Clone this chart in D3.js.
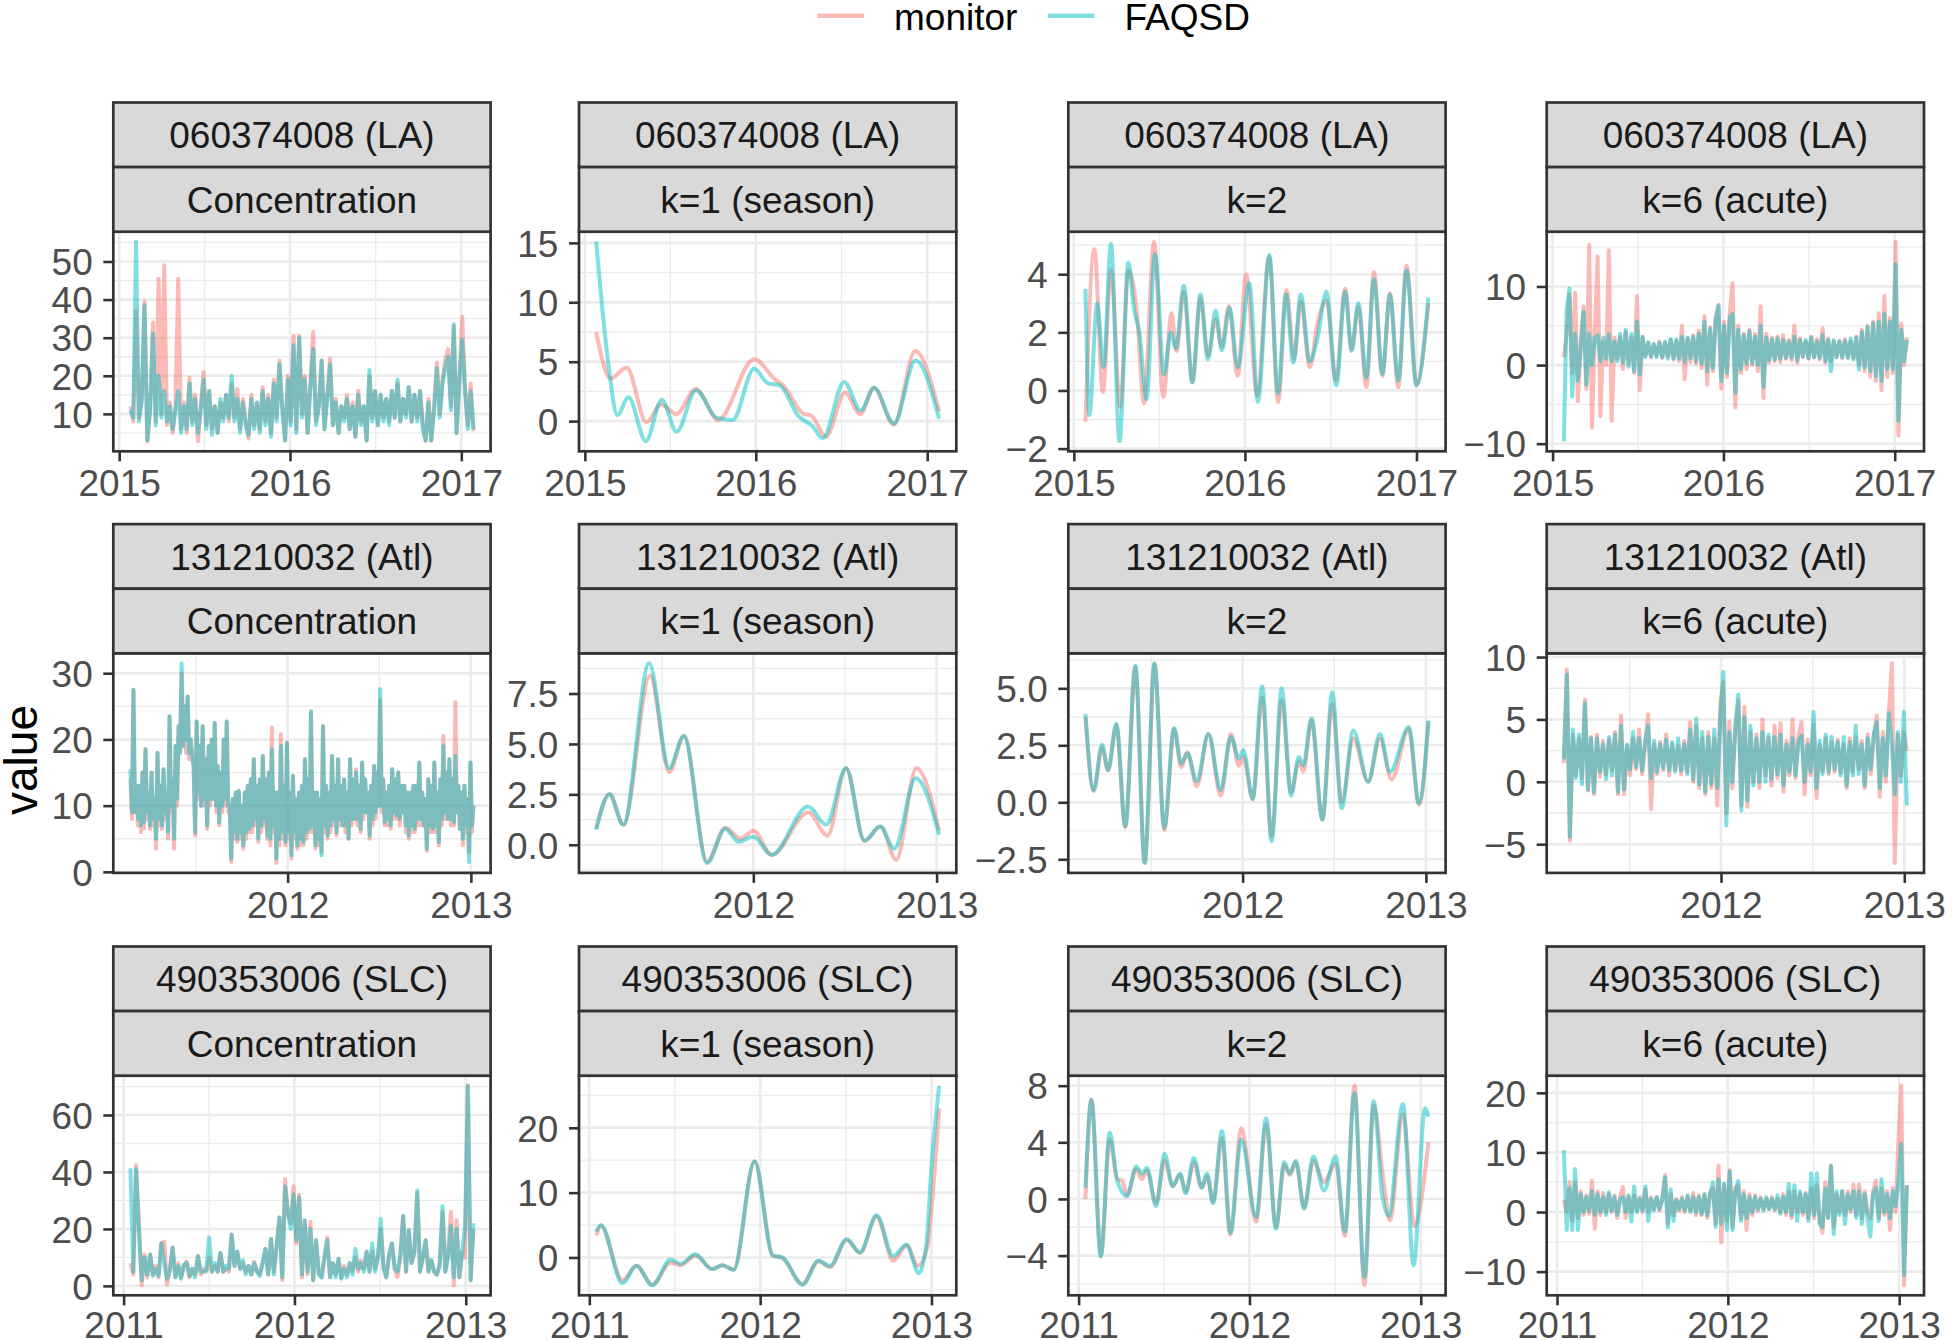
<!DOCTYPE html>
<html><head><meta charset="utf-8">
<script src="https://cdn.jsdelivr.net/npm/d3@7"></script>
<style>
body{margin:0;background:#fff;}
svg{display:block;font-family:"Liberation Sans",Arial,Helvetica,sans-serif;}
</style></head><body>
<svg id="chart" width="1952" height="1340"></svg>
<script>
// ---------------- DATA ----------------
const sites = ["060374008 (LA)", "131210032 (Atl)", "490353006 (SLC)"];
const components = ["Concentration", "k=1 (season)", "k=2", "k=6 (acute)"];
const seriesNames = ["monitor", "FAQSD"];
const seriesColors = ["#F8766D", "#00BFC4"];
// first and last day of each site's record (decimal year); sampled daily values are evenly spread between them
const siteStart = [2015.066, 2011.14, 2011.04];
const siteEnd = [2017.071, 2013.014, 2013.045];

// LA — concentration and acute (k=6) sampled values
const laConcMonitor = [12,8,37,9,14,39.5,2.8,12,34,8, 45.5,10,49,7,13,5,12,45.5,6,13, 5,19.5,8,15,2.8,12,21,7,16,6, 12,5,13,9,15,8,18,9,16.5,6, 14,8,3.5,15,7,13,6,17,8,15, 5,19,9,24,12,3,20,8,30.5,6, 30.5,10,20,5,18,31.5,8,12,24,6, 15,24.5,7,14,5,12,9,15,6,13, 4,16,8,12,3,20,9,16,7,15, 9,14,8,16,9,18,8,14,10,17, 8,15,9,16,7,3,14,3,12,23.5, 10,19,24.5,27,12,33,5,20,35.5,17, 7,18,5.5];
const laConcFAQSD = [11,9,55.2,8,13,38.5,3,11,31,7, 20,9,16,8,12,6,11,16,5,12, 6,18,7,14,5,11,19,6,16,4.5, 12,5,14,8,15,9,20,8,14,5, 13,7,4.5,14,6,13,5,16,7,14, 4,18,8,23,11,3,19,7,28,5, 30,9,19,5,17,27,7,12,24,6, 14,23,7,13,5,12,8,14,6,12, 4,15,7,12,3,21.5,8,16,7,15, 8,14,7,16,9,19,8,14,9,17, 8,15,8,16,6,3,13,3,11,22, 9,18,22,25,11,33.5,5,19,29.5,16, 6,16,6];
const laAcuteMonitor = [1,4,9,-1,9.2,-4.6,3,7.5,-3,15.3, -7.95,4,13.8,-6.5,3,0,14.6,-7.1,3.5,0.8, 3.5,-0.5,4.2,0.2,3.5,-1,8.8,-3.2,3.5,1.2, 2.8,1.0,2.6,1.2,3.0,0.9,2.8,1.1,3.2,0.7, 3.0,0.5,5.0,-1.8,3.4,0.4,3.8,0.2,4.4,-0.4, 6.2,-2.5,4.8,-0.8,6,7.7,-3.0,5.5,-1.5,6.5, 10.4,-5.4,5.0,-1.0,4.0,-0.5,4.5,0.0,4.0,-0.8, 7.5,-4.2,4.0,0.3,3.5,0.5,3.6,0.4,3.8,0.8, 3.2,0.6,5.0,0.3,3.4,1.0,3.0,0.8,3.6,1.0, 3.3,0.7,4.7,0.3,3.4,0.5,3.0,1.0,3.1,0.9, 3.3,1.0,3.0,0.9,3.6,0.0,4.5,-0.8,5.0,-1.5, 5.5,-2.0,6.6,-3.2,8.8,-1.5,6.0,-1.0,15.7,-9.0, 5.3,0.0,3.5];
const laAcuteFAQSD = [-9.7,7.1,9.75,-4,4,-2,2,6.8,-2.5,4, 0,3.5,3.8,0.5,3.5,0.8,3.9,0.5,3,0.5, 4.0,0.3,4.5,-0.2,4.0,-0.8,5.5,-1.2,3.6,1.0, 2.9,1.1,2.7,1.0,2.8,1.0,3.0,0.8,3.3,0.8, 3.3,0.8,3.6,0.4,3.5,0.9,3.6,0.5,4.0,0.2, 5.5,-0.8,4.6,-0.4,5.8,7.5,-2.0,5.0,-1.0,6.0, 6.5,-3.5,4.5,-0.5,3.8,0.2,4.3,0.3,3.6,0.0, 5.0,-2.8,3.5,0.6,3.3,0.7,3.4,0.8,3.2,0.9, 3.0,1.0,3.6,0.6,3.2,1.1,3.2,0.9,3.5,1.0, 3.0,0.9,3.8,0.5,3.2,-0.8,3.2,1.0,3.0,1.0, 3.1,0.9,3.4,0.7,3.5,-0.6,4.2,-0.3,4.8,-0.8, 5.3,-1.4,5.5,-2.0,6.5,-0.5,5.5,-0.5,12.8,-7.1, 4.5,0.5,3.2];
// LA — smooth components: [decimal year, value] at turning points
const laSeasonMonitor = [[2015.066,7.5],[2015.15,3.6],[2015.245,4.5],[2015.36,-0.1],[2015.445,1.4],[2015.535,0.6],[2015.65,2.7],[2015.78,0.1],[2015.99,5.2],[2016.12,3.4],[2016.16,3.0],[2016.28,0.6],[2016.32,0.5],[2016.41,-1.3],[2016.52,2.4],[2016.61,0.6],[2016.69,2.8],[2016.805,-0.3],[2016.93,5.9],[2017.07,0.8]];
const laSeasonFAQSD = [[2015.066,15.1],[2015.14,4.5],[2015.19,0.5],[2015.255,2.0],[2015.357,-1.7],[2015.45,1.8],[2015.537,-0.9],[2015.65,2.6],[2015.77,0.3],[2015.865,0.1],[2015.99,4.4],[2016.07,3.2],[2016.14,3.0],[2016.25,0.4],[2016.33,-0.4],[2016.39,-1.45],[2016.516,3.3],[2016.612,0.9],[2016.69,2.8],[2016.806,-0.2],[2016.932,5.1],[2017.07,0.2]];
const laK2Monitor = [[2015.068,-1.08],[2015.12,4.87],[2015.17,-0.06],[2015.217,4.14],[2015.271,-0.57],[2015.319,4.14],[2015.368,2.7],[2015.41,-0.45],[2015.469,5.12],[2015.523,-0.23],[2015.571,2.66],[2015.6,1.36],[2015.643,3.4],[2015.693,0.28],[2015.74,3.17],[2015.784,1.19],[2015.829,2.44],[2015.865,1.5],[2015.906,2.9],[2015.958,0.5],[2016.007,4.0],[2016.071,-0.17],[2016.142,4.6],[2016.193,-0.4],[2016.243,3.45],[2016.287,1.1],[2016.326,3.06],[2016.378,0.8],[2016.423,2.3],[2016.475,3.1],[2016.53,0.34],[2016.584,3.5],[2016.622,1.4],[2016.661,2.9],[2016.708,0.11],[2016.752,4.08],[2016.801,0.5],[2016.845,3.34],[2016.894,0.11],[2016.942,4.3],[2017.0,0.2],[2017.07,3.0]];
const laK2FAQSD = [[2015.068,3.5],[2015.091,-0.85],[2015.136,3.0],[2015.174,0.8],[2015.217,5.05],[2015.267,-1.75],[2015.319,4.4],[2015.352,2.8],[2015.383,2.0],[2015.426,-0.3],[2015.474,4.7],[2015.527,0.55],[2015.567,2.0],[2015.596,1.45],[2015.643,3.6],[2015.693,0.28],[2015.74,3.3],[2015.784,1.07],[2015.829,2.75],[2015.865,1.38],[2015.91,2.85],[2015.958,0.8],[2016.026,3.7],[2016.076,-0.4],[2016.142,4.67],[2016.193,-0.1],[2016.239,3.3],[2016.282,0.96],[2016.326,3.3],[2016.378,1.0],[2016.423,1.8],[2016.475,3.4],[2016.533,0.17],[2016.584,3.4],[2016.622,1.36],[2016.661,3.0],[2016.708,0.45],[2016.752,3.83],[2016.801,0.57],[2016.845,3.29],[2016.894,0.34],[2016.942,4.14],[2017.0,0.17],[2017.07,3.2]];

// Atl
const atlConcMonitor = [14,8, 27.5,9, 13,7, 13,6, 15,6.5, 18.5,8, 12,6.5, 15,7, 11,3.5, 18,7,
 13,6.5, 15.5,8, 12,5, 23.5,9, 14,3.5, 19,10, 22,18, 30,19, 25,18, 26.5,17,
 20,17.5, 16,5.5, 22.7,11, 19,10, 22,10, 17,6.5, 19,10, 20,11, 22.5,9, 16,7,
 15,9, 20,10, 22.7,9, 10,1.5, 11,5, 12,4.5, 12.2,5, 10,3.5, 12,5, 13,6,
 14,6, 17,7, 13,4.5, 14,6, 17.5,7, 14,5, 15,4, 21.8,6, 12,1.35, 12,4,
 20.8,5, 13,4, 19.5,5, 12,2, 14.5,5, 11,3.5, 12,4, 13,4, 17,5, 14,6,
 24,6, 12,3.5, 12,4, 11,3, 22,6, 13,5, 12,6, 17.5,7, 13,5.5, 17,7,
 13,7, 14,6, 12,5, 17,7, 14,8, 15.5,7, 13,6, 16.5,8, 14,9, 12,5,
 13,7, 16,8, 15,10, 26,9, 14,7, 12,7, 13,6.5, 15.5,8, 14,8, 15,7,
 13,9, 13,6, 12,5, 12,6, 13,6, 13,7, 16.5,7, 12,7, 11,3.2, 14,6,
 13,6, 16.5,6, 12,4, 14,7, 20.5,8, 15,8, 17,7, 14,7, 25.6,9, 13,6.5,
 12,4, 13,6, 11,3, 16.5,6, 10];
const atlConcFAQSD = [15.5,9, 27.5,9, 13,8, 13,7, 15,7.5, 18.5,9, 12,7, 15,8, 11,5, 18,8,
 13,7, 15.5,9, 12,6, 23.5,10, 14,5, 19,11, 22,18, 31.5,19, 25,20, 26.5,18,
 20,17.5, 16,6, 22.7,12, 19,10, 22,11, 17,7, 19,11, 20,11, 22.5,10, 16,7.5,
 15,10, 20,11, 22.7,10, 10,2, 11,6, 12,5, 12.2,6, 10,4, 12,6, 13,6.5,
 14,7, 17,8, 13,5, 14,7, 17.5,8, 14,5.5, 15,5, 18.5,7, 12,2, 12,5,
 19,6, 13,4.5, 19.5,6, 12,2.5, 14.5,6, 11,4, 12,5, 13,4.5, 17,6, 14,6.5,
 24.3,7, 12,4, 12,5, 11,2.5, 22,7, 13,5.5, 12,7, 17.5,8, 13,6, 17,8,
 13,7, 14,7, 12,5, 17,8, 14,8, 15,8, 13,6.5, 16.5,9, 14,9, 12,5.5,
 13,8, 16,9, 15,10, 27.6,10, 14,7.5, 12,8, 13,7, 15.5,9, 14,8.5, 15,8,
 13,9, 13,7, 12,5.5, 12,7, 13,6.5, 13,8, 16.5,8, 12,7, 11,3.5, 14,7,
 13,6.5, 16.5,7, 12,4.5, 14,8, 19,9, 15,8, 17,8, 14,7.5, 17.5,9, 13,6.5,
 12,5, 13,7, 11,1.5, 16.5,7, 10];
const atlAcuteMonitor = [1.5,9.0,-4.7,3.8,0.5,3.5,0.3,6.6,-0.7,3.6, -1.0,3.8,0.4,3.3,0.6,3.4,0.9,4.0,-1.0,5.3, -1.0,2.9,0.5,3.5,1.0,4.2,0.6,3.0,5.4,-2.2, 3.0,0.6,3.2,0.9,3.8,0.5,3.0,1.0,2.9,0.6, 3.3,0.8,4.8,0.0,4.5,-0.5,3.5,-1.0,4.0,-0.5, 3.5,-1.9,6.3,8.0,-2.5,4.8,-0.5,4.2,6.5,-1.9, 6.0,-2.0,4.0,0.0,3.8,-0.5,5.0,0.5,3.5,-0.3, 4.5,0.3,4.7,-0.8,3.3,0.5,5.0,0.3,3.6,4.8, -1.0,3.4,0.5,4.6,-1.3,3.0,0.8,3.5,0.6,3.2, 0.8,3.4,0.7,3.0,-0.5,3.5,0.8,3.6,1.0,3.3, -0.5,3.8,0.6,3.5,5.3,-1.2,4.0,0.0,5.4,9.5, -6.5,3.8,0.5,4.0,2.5];
const atlAcuteFAQSD = [1.8,8.6,-4.4,4.2,0.3,3.8,-0.2,6.3,-0.6,3.5, -0.8,3.5,0.8,3.0,0.2,3.6,0.5,3.8,-0.8,4.5, -0.6,3.0,1.0,4.0,1.2,3.5,0.9,3.2,4.5,0.3, 3.3,0.8,3.0,1.1,3.4,0.9,3.2,0.8,3.5,0.9, 3.0,0.6,4.2,0.2,5.07,-0.2,4.0,-0.8,3.6,-0.2, 4.2,-0.5,5.0,8.8,-3.5,4.0,0.0,4.5,7.0,-2.3, 5.2,-1.5,4.5,-0.3,3.5,0.0,4.0,0.0,3.8,0.2, 3.6,0.6,3.8,-0.3,3.0,0.8,3.5,0.5,3.3,3.7, 0.0,3.0,0.8,5.6,-0.5,3.3,0.6,3.8,0.8,3.6, 1.0,3.2,0.5,3.6,-0.3,3.2,0.5,4.5,0.6,3.0, -0.3,3.5,1.0,3.9,4.8,-0.5,3.5,0.5,5.5,3.0, -1.0,4.0,0.0,5.6,-1.9];
const atlSeasonMonitor = [[2011.14,0.8],[2011.213,2.5],[2011.289,1.0],[2011.435,8.4],[2011.54,3.6],[2011.62,5.4],[2011.747,-0.85],[2011.846,0.85],[2011.93,0.3],[2012.0,0.7],[2012.1,-0.5],[2012.3,1.6],[2012.405,0.45],[2012.506,3.8],[2012.606,0.2],[2012.693,0.9],[2012.78,-0.75],[2012.89,3.8],[2013.014,0.7]];
const atlSeasonFAQSD = [[2011.14,0.75],[2011.213,2.5],[2011.289,1.0],[2011.43,9.0],[2011.539,3.8],[2011.62,5.4],[2011.747,-0.9],[2011.846,0.8],[2011.919,0.15],[2012.0,0.4],[2012.1,-0.5],[2012.298,1.9],[2012.398,1.0],[2012.506,3.8],[2012.606,0.2],[2012.693,0.9],[2012.769,-0.2],[2012.886,3.3],[2013.014,0.5]];
const atlK2Monitor = [[2011.14,3.75],[2011.185,0.5],[2011.231,2.4],[2011.264,1.4],[2011.309,3.4],[2011.358,-1.1],[2011.413,5.95],[2011.464,-2.64],[2011.518,6.06],[2011.571,-1.2],[2011.625,3.2],[2011.664,1.55],[2011.698,2.2],[2011.749,0.7],[2011.813,3.0],[2011.88,0.3],[2011.936,3.0],[2011.98,1.6],[2012.004,2.0],[2012.055,0.15],[2012.107,4.6],[2012.158,-1.5],[2012.213,4.5],[2012.264,0.45],[2012.307,1.8],[2012.331,1.35],[2012.376,3.6],[2012.435,-0.75],[2012.489,4.3],[2012.54,0.0],[2012.604,2.8],[2012.685,0.9],[2012.749,2.8],[2012.812,1.0],[2012.907,3.2],[2012.962,-0.1],[2013.014,3.55]];
const atlK2FAQSD = [[2011.14,3.88],[2011.185,0.54],[2011.231,2.53],[2011.264,1.41],[2011.309,3.44],[2011.358,-1.06],[2011.413,5.99],[2011.464,-2.66],[2011.518,6.1],[2011.571,-1.13],[2011.625,3.26],[2011.664,1.7],[2011.698,2.14],[2011.749,0.93],[2011.813,3.0],[2011.88,0.54],[2011.936,2.86],[2011.98,1.92],[2012.004,2.28],[2012.055,0.15],[2012.107,5.09],[2012.158,-1.72],[2012.213,5.0],[2012.264,0.29],[2012.307,1.99],[2012.331,1.63],[2012.376,3.69],[2012.435,-0.77],[2012.489,4.83],[2012.54,-0.26],[2012.604,3.15],[2012.685,0.9],[2012.749,3.0],[2012.804,1.34],[2012.907,3.3],[2012.962,-0.04],[2013.014,3.59]];

// SLC
const slcConcMonitor = [8,4,42.4,22,0.2,11,3,11,4,7, 3,15,15.5,0.5,6,13.5,3,8,3,7, 8.5,3,6,4,10.5,4,6,5,10,5, 7,5,11.5,5,6,5,18,7,12,6, 8,5,7,4,8.5,5,4,8,13,4, 16.5,5,14,24,2,37.5,25,22,35,15, 32,3,23,4,22.5,2,16,5,3,10, 17,3,8,4,9.5,3,7,4,8,5, 10,5,9,6,12,5,12,6,10,20, 7,3,11,15,6,3,10,24.5,5,19.5, 8,12,32.5,5,10,16,5,9,5,4, 8,26,5,12,26,0.2,23,3,12,10, 70.3,2,20];
const slcConcFAQSD = [41.3,5,41,20,2,10,4,11,3.5,6, 3.5,15,8,2.5,5,13.5,3,7,2.5,7.5, 8,3.5,6,3,10.5,5,5,5.5,17,5, 8,5,11.5,5,7,6,18,7,12,6, 9,4,7,4,8,5,3.5,8,13,4, 16.5,4,14,24,3,35,26,20,32,16, 31,4,23,5,20,2,16,4,3,10, 16,3,8,3,9.5,2.5,6,3,8,4, 13,6,8,5,12,5,15,5,10,23.5, 6,3,11,15,6,5,11,24.5,5,19.5, 8,12,33.5,5,10,16,5,9,5,4, 7,28,5,10,21,3,20,3,12,20.5, 70.3,2,22];
const slcAcuteMonitor = [2.0,0.0,5.0,-1.5,5.0,-1.0,3.5,-0.5,2.8,-0.3, 5.2,-2.8,3.5,-0.5,3.2,0.0,3.0,0.0,2.8,-1.0, 2.5,4.2,-1.0,2.5,0.0,2.8,0.2,2.5,0.0,3.8, 0.0,2.5,0.5,2.5,0.3,2.0,6.2,-2.0,3.0,-0.5, 2.2,0.2,2.5,0.0,2.5,0.3,3.2,-0.5,2.8,-0.5, 3.0,-1.0,3.2,4.0,-2.0,7.8,-5.1,4.5,-1.5,7.0, -2.5,4.0,4.5,-1.0,3.5,-3.0,3.0,-0.5,2.8,0.2, 2.5,0.5,2.2,0.5,2.5,0.3,2.2,0.0,3.0,-0.5, 3.5,-1.0,3.5,0.0,3.0,-0.5,3.2,-1.0,4.0,-1.0, 4.5,-1.5,-3.5,5.0,-1.0,7.8,-2.5,3.0,0.0,3.5, -0.5,3.5,0.0,4.6,-0.5,4.6,-1.0,3.5,0.0,-1.0, 3.5,5.3,-1.0,4.0,-0.5,3.5,-3.0,4.0,0.0,12.0, 21.2,-12.3,4.5];
const slcAcuteFAQSD = [10.4,-3.0,4.0,-3.0,7.2,-3.0,3.0,0.0,2.5,0.2, 3.5,-0.5,3.0,0.0,2.5,-0.5,3.3,0.2,2.5,-0.5, 2.2,2.5,0.0,2.8,-1.6,4.3,0.0,2.2,0.3,4.3, -1.5,2.2,0.3,2.5,0.5,2.2,5.8,-2.6,3.8,-1.5, 2.0,0.5,2.2,0.3,2.8,0.0,2.5,0.0,2.5,-0.3, 3.0,-0.5,3.0,5.0,-2.5,5.5,-2.0,4.8,-3.0,6.8, -3.0,3.5,5.2,-1.5,3.0,-1.0,2.5,0.0,2.5,0.5, 2.2,0.3,2.5,0.5,2.2,0.5,2.8,-0.3,2.5,0.0, 4.7,-0.5,4.5,-1.5,3.5,0.0,3.0,-1.5,6.5,-0.5, 6.5,-2.0,-2.5,4.0,-1.0,7.7,-3.7,3.5,-0.5,3.5, -2.0,3.0,0.5,3.5,-1.0,3.5,-2.0,3.0,-1.0,-4.1, 3.0,4.0,-1.5,5.5,0.0,3.0,-1.0,3.5,1.0,5.0, 11.4,-10.6,4.5];
const slcSeasonMonitor = [[2011.04,3.4],[2011.068,4.8],[2011.194,-3.5],[2011.276,-1.3],[2011.369,-4.2],[2011.476,-0.8],[2011.534,-1.2],[2011.621,0.3],[2011.718,-1.8],[2011.78,-1.2],[2011.845,-1.9],[2011.967,14.8],[2012.074,0.3],[2012.13,-0.1],[2012.247,-4.1],[2012.34,-0.6],[2012.408,-1.5],[2012.505,2.7],[2012.583,0.7],[2012.68,6.3],[2012.777,-0.5],[2012.854,1.8],[2012.92,-1.3],[2012.975,1.5],[2013.005,9],[2013.045,23]];
const slcSeasonFAQSD = [[2011.04,4.0],[2011.068,5.0],[2011.194,-4.0],[2011.276,-1.3],[2011.369,-4.3],[2011.476,-0.3],[2011.534,-1.0],[2011.621,0.5],[2011.718,-1.8],[2011.78,-1.2],[2011.845,-1.9],[2011.967,14.8],[2012.074,0.3],[2012.13,0.0],[2012.247,-4.2],[2012.34,-0.5],[2012.408,-1.3],[2012.505,2.8],[2012.583,0.8],[2012.68,6.5],[2012.777,0.2],[2012.854,2.0],[2012.926,-2.4],[2012.97,2],[2013.0,14],[2013.045,26.5]];
const slcK2Monitor = [[2011.04,0.0],[2011.075,7.0],[2011.13,-4.0],[2011.182,4.2],[2011.226,1.4],[2011.255,1.3],[2011.284,0.3],[2011.337,2.1],[2011.371,1.4],[2011.4,2.0],[2011.453,-0.3],[2011.503,2.7],[2011.551,0.9],[2011.594,1.7],[2011.627,0.5],[2011.675,2.6],[2011.72,0.8],[2011.752,1.6],[2011.787,-0.2],[2011.839,4.3],[2011.888,-2.5],[2011.952,5.0],[2012.039,-1.6],[2012.097,5.3],[2012.155,-2.0],[2012.203,2.4],[2012.236,1.7],[2012.271,2.6],[2012.319,-0.6],[2012.373,2.7],[2012.435,1.2],[2012.503,2.5],[2012.557,-2.6],[2012.613,8.0],[2012.671,-6.1],[2012.725,6.6],[2012.78,1.5],[2012.82,-1.5],[2012.896,6.0],[2012.962,-1.9],[2013.045,4.0]];
const slcK2FAQSD = [[2011.04,0.8],[2011.075,7.0],[2011.13,-4.1],[2011.182,4.7],[2011.226,1.3],[2011.284,0.2],[2011.337,2.3],[2011.371,1.8],[2011.4,2.2],[2011.453,-0.5],[2011.503,3.2],[2011.551,0.9],[2011.594,1.8],[2011.627,0.4],[2011.675,2.9],[2011.72,0.8],[2011.752,1.8],[2011.787,-0.3],[2011.839,4.8],[2011.888,-2.4],[2011.952,4.2],[2012.039,-1.3],[2012.097,5.7],[2012.155,-2.1],[2012.203,2.6],[2012.236,1.8],[2012.271,2.7],[2012.319,-0.7],[2012.373,3.0],[2012.435,0.6],[2012.503,3.0],[2012.557,-2.3],[2012.613,7.5],[2012.671,-5.5],[2012.725,6.9],[2012.774,0.4],[2012.812,-1.2],[2012.896,6.7],[2012.958,-4.7],[2013.025,6.4],[2013.045,5.8]];

// y-axis tick values and labels per panel [row][col]
const yTickValues = [
  [[10,20,30,40,50],[0,5,10,15],[-2,0,2,4],[-10,0,10]],
  [[0,10,20,30],[0,2.5,5,7.5],[-2.5,0,2.5,5],[-5,0,5,10]],
  [[0,20,40,60],[0,10,20],[-4,0,4,8],[-10,0,10,20]]
];
const yTickLabels = [
  [["10","20","30","40","50"],["0","5","10","15"],["\u22122","0","2","4"],["\u221210","0","10"]],
  [["0","10","20","30"],["0.0","2.5","5.0","7.5"],["\u22122.5","0.0","2.5","5.0"],["\u22125","0","5","10"]],
  [["0","20","40","60"],["0","10","20"],["\u22124","0","4","8"],["\u221210","0","10","20"]]
];
const yAxisTitle = "value";

// ---------------- LAYOUT / STYLE ----------------
const W = 1952, H = 1340;
const colLeft = [113.3, 579, 1068.3, 1546.7], panelW = 377.3;
const rowTop = [231.7, 653.3, 1075.7], panelH = 219.6;
const stripH = 64.6;
const fontAxis = 37, fontTitle = 46;
const lineW = 4, alpha = 0.5;
const xLabelPad = [8.5, 8.5, 6];

const panelSeries = [
  [[laConcMonitor, laConcFAQSD], [laSeasonMonitor, laSeasonFAQSD], [laK2Monitor, laK2FAQSD], [laAcuteMonitor, laAcuteFAQSD]],
  [[atlConcMonitor, atlConcFAQSD], [atlSeasonMonitor, atlSeasonFAQSD], [atlK2Monitor, atlK2FAQSD], [atlAcuteMonitor, atlAcuteFAQSD]],
  [[slcConcMonitor, slcConcFAQSD], [slcSeasonMonitor, slcSeasonFAQSD], [slcK2Monitor, slcK2FAQSD], [slcAcuteMonitor, slcAcuteFAQSD]]
];

function yearToDate(t) {
  const y = Math.floor(t);
  const a = Date.UTC(y, 0, 1), b = Date.UTC(y + 1, 0, 1);
  return new Date(a + (t - y) * (b - a));
}
function toPoints(arr, start, end) {
  if (typeof arr[0] === "number") {
    const s = yearToDate(start).getTime(), e = yearToDate(end).getTime();
    const st = (e - s) / (arr.length - 1);
    return arr.map((v, i) => ({date: new Date(s + i * st), value: v}));
  }
  return arr.map(d => ({date: yearToDate(d[0]), value: d[1]}));
}

const svg = d3.select("#chart");
svg.append("rect").attr("width", W).attr("height", H).attr("fill", "#fff");
const defs = svg.append("defs");

for (let r = 0; r < 3; r++) {
  for (let c = 0; c < 4; c++) {
    const smooth = (c === 1 || c === 2);
    const series = panelSeries[r][c].map(a => toPoints(a, siteStart[r], siteEnd[r]));
    const all = series.flat();
    const xe = d3.extent(all, d => d.date.getTime());
    const xs = (xe[1] - xe[0]) * 0.05;
    const ye = d3.extent(all, d => d.value);
    const ys = (ye[1] - ye[0]) * 0.05;
    const x = d3.scaleUtc().domain([new Date(xe[0] - xs), new Date(xe[1] + xs)]).range([0, panelW]);
    const y = d3.scaleLinear().domain([ye[0] - ys, ye[1] + ys]).range([panelH, 0]);
    const [d0, d1] = x.domain();

    const g = svg.append("g").attr("transform", `translate(${colLeft[c]},${rowTop[r]})`);
    g.append("rect").attr("width", panelW).attr("height", panelH).attr("fill", "#fff");

    // grid
    const years = d3.utcYear.range(d3.utcYear.offset(d3.utcYear.floor(d0), -1), d3.utcYear.offset(d1, 2));
    const xMinor = [];
    for (let i = 0; i < years.length - 1; i++) xMinor.push(new Date((years[i].getTime() + years[i + 1].getTime()) / 2));
    const xMajor = x.ticks(d3.utcYear.every(1));
    const tv = yTickValues[r][c];
    const stp = tv[1] - tv[0];
    const yMinor = [tv[0] - stp / 2].concat(tv.map(v => v + stp / 2));
    const [yl, yh] = y.domain();
    const yMajor = tv.filter(v => v >= yl && v <= yh);
    const grid = g.append("g").attr("stroke", "#EBEBEB").attr("fill", "none");
    grid.selectAll(".xmin").data(xMinor.filter(d => d > d0 && d < d1)).join("line").attr("class", "xmin")
      .attr("x1", d => x(d)).attr("x2", d => x(d)).attr("y1", 0).attr("y2", panelH).attr("stroke-width", 1.3);
    grid.selectAll(".ymin").data(yMinor.filter(v => v > yl && v < yh)).join("line").attr("class", "ymin")
      .attr("x1", 0).attr("x2", panelW).attr("y1", d => y(d)).attr("y2", d => y(d)).attr("stroke-width", 1.3);
    grid.selectAll(".xmaj").data(xMajor).join("line").attr("class", "xmaj")
      .attr("x1", d => x(d)).attr("x2", d => x(d)).attr("y1", 0).attr("y2", panelH).attr("stroke-width", 2.6);
    grid.selectAll(".ymaj").data(yMajor).join("line").attr("class", "ymaj")
      .attr("x1", 0).attr("x2", panelW).attr("y1", d => y(d)).attr("y2", d => y(d)).attr("stroke-width", 2.6);

    // lines
    const cid = `clip-${r}-${c}`;
    defs.append("clipPath").attr("id", cid).append("rect").attr("width", panelW).attr("height", panelH);
    const line = d3.line().x(d => x(d.date)).y(d => y(d.value)).curve(smooth ? d3.curveMonotoneX : d3.curveLinear);
    const lg = g.append("g").attr("clip-path", `url(#${cid})`);
    series.forEach((s, k) => {
      lg.append("path").datum(s).attr("d", line).attr("fill", "none")
        .attr("stroke", seriesColors[k]).attr("stroke-opacity", alpha)
        .attr("stroke-width", lineW).attr("stroke-linejoin", "round");
    });

    // border
    g.append("rect").attr("width", panelW).attr("height", panelH).attr("fill", "none")
      .attr("stroke", "#333333").attr("stroke-width", 2.7);

    // axes
    const xa = g.append("g").attr("transform", `translate(0,${panelH})`)
      .call(d3.axisBottom(x).ticks(d3.utcYear.every(1)).tickFormat(d3.utcFormat("%Y")).tickSize(10).tickPadding(xLabelPad[r]));
    const ya = g.append("g")
      .call(d3.axisLeft(y).tickValues(yMajor).tickFormat(v => yTickLabels[r][c][tv.indexOf(v)]).tickSize(10).tickPadding(10.6));
    [xa, ya].forEach(a => {
      a.select(".domain").remove();
      a.selectAll(".tick line").attr("stroke", "#333333").attr("stroke-width", 2.6);
      a.selectAll(".tick text").attr("fill", "#4D4D4D").attr("font-size", fontAxis)
        .attr("font-family", "'Liberation Sans',Arial,Helvetica,sans-serif");
    });
    ya.selectAll(".tick text").attr("dy", "0.358em");

    // strips
    const labels = [sites[r], components[c]];
    labels.forEach((lab, k) => {
      const sy = -stripH * (2 - k);
      g.append("rect").attr("x", 0).attr("y", sy).attr("width", panelW).attr("height", stripH)
        .attr("fill", "#D9D9D9").attr("stroke", "#333333").attr("stroke-width", 2.7);
      g.append("text").attr("x", panelW / 2).attr("y", sy + stripH / 2 + 0.358 * fontAxis)
        .attr("text-anchor", "middle").attr("font-size", fontAxis).attr("fill", "#1A1A1A").text(lab);
    });
  }
}

// y axis title
svg.append("text").attr("transform", "translate(37,760) rotate(-90)").attr("text-anchor", "middle")
  .attr("font-size", fontTitle).attr("fill", "#000").text(yAxisTitle);

// legend
const leg = svg.append("g");
let lx = 817.5;
seriesNames.forEach((n, k) => {
  leg.append("line").attr("x1", lx).attr("x2", lx + 46.5).attr("y1", 15.7).attr("y2", 15.7)
    .attr("stroke", seriesColors[k]).attr("stroke-opacity", alpha).attr("stroke-width", 4.5);
  const t = leg.append("text").attr("x", lx + 76.5).attr("y", 29.5).attr("font-size", fontAxis).attr("fill", "#000").text(n);
  lx = lx + 76.5 + t.node().getComputedTextLength() + 30.6;
});
</script>
</body></html>
